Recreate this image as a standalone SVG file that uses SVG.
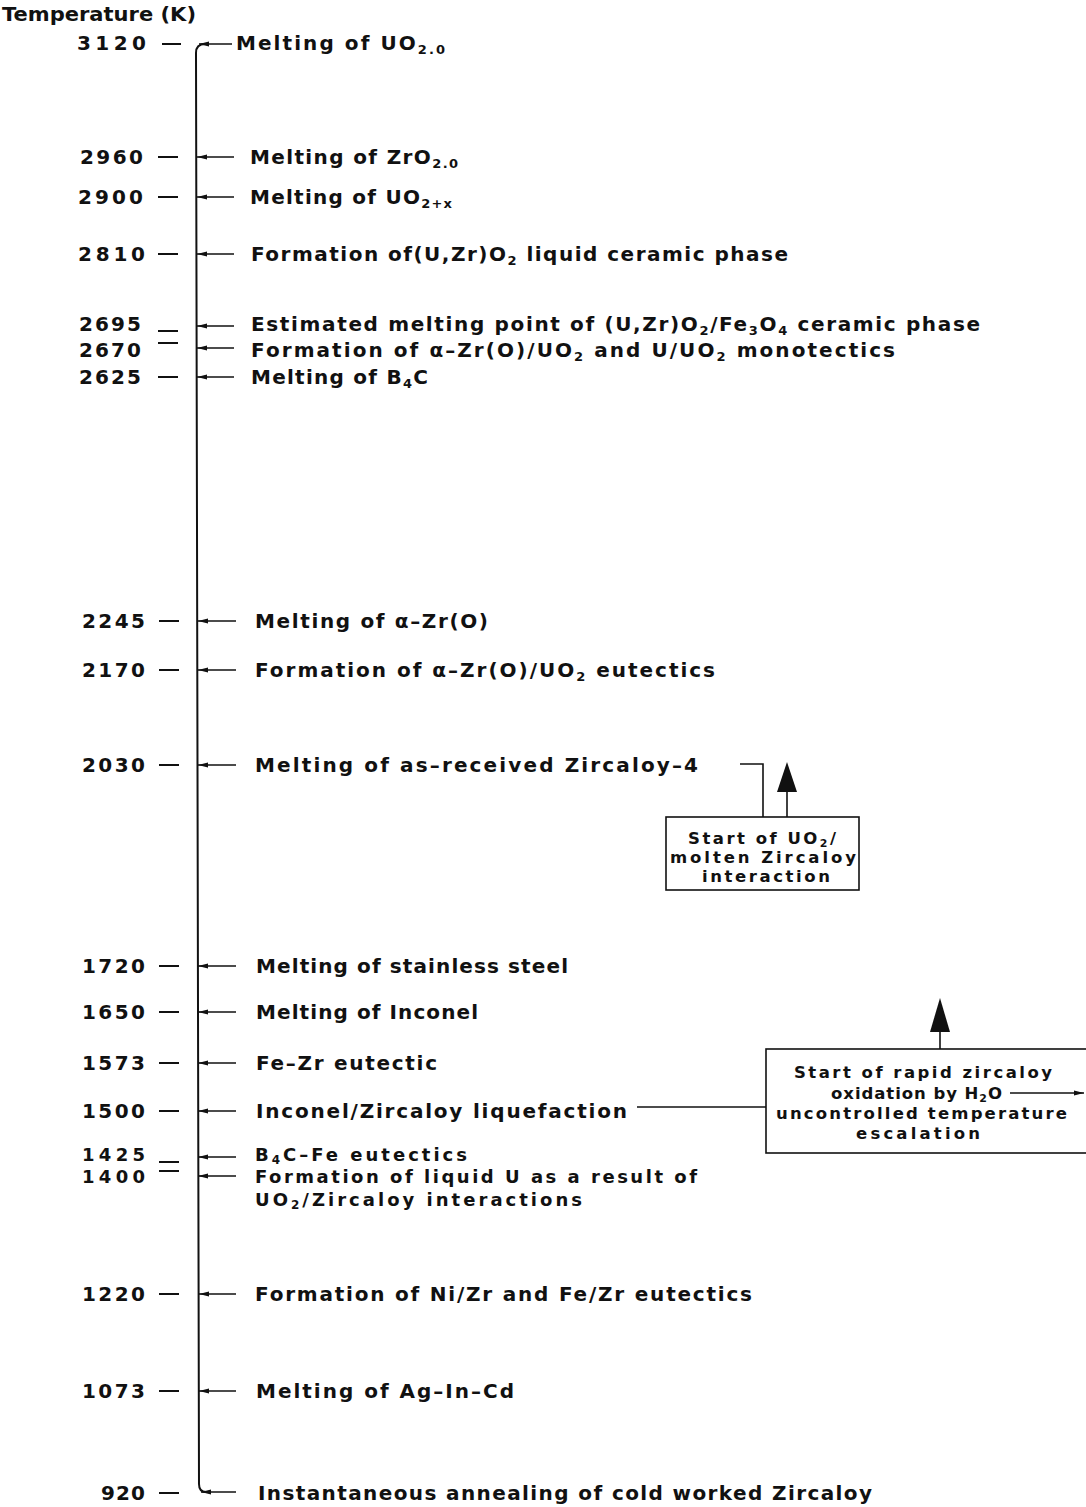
<svg xmlns="http://www.w3.org/2000/svg" width="1086" height="1507" viewBox="0 0 1086 1507">
<style>
.t{font-family:"DejaVu Sans","Liberation Sans",Arial,sans-serif;font-weight:bold;font-size:20px;fill:#111}
.s{font-size:13px}
.bt{font-size:16.5px}
.bt .s{font-size:11px}
.sm{font-size:18px}
.sm .s{font-size:12px}
.ax{stroke:#111;stroke-width:2;fill:none}
.tk{stroke:#111;stroke-width:2}
.ar{stroke:#111;stroke-width:1.5;fill:none;marker-end:url(#ah)}
.bx{fill:#fff;stroke:#111;stroke-width:1.6}
.ln{stroke:#111;stroke-width:1.6;fill:none}
.big{fill:#111}
</style>
<defs>
<marker id="ah" viewBox="0 0 10 6" refX="10" refY="3" markerWidth="10" markerHeight="6" markerUnits="userSpaceOnUse" orient="auto"><path d="M0,0.5 L10,3 L0,5.5 z" fill="#111"/></marker>
</defs>
<rect width="1086" height="1507" fill="#fff"/>
<text id="title" class="t" x="2" y="21" textLength="194" lengthAdjust="spacingAndGlyphs">Temperature (K)</text>

<g id="axis">
<path class="ax" d="M205 44 Q196 44 196 53 L199 1484 Q199 1492 206 1492"/>
</g>

<g id="connectors">
<line class="ar" x1="232" y1="44" x2="199" y2="44"/>
<line class="ar" x1="234" y1="157" x2="197" y2="157"/>
<line class="ar" x1="234" y1="197" x2="197" y2="197"/>
<line class="ar" x1="234" y1="254" x2="197" y2="254"/>
<line class="ar" x1="234" y1="326" x2="197" y2="326"/>
<line class="ar" x1="234" y1="348" x2="197" y2="348"/>
<line class="ar" x1="234" y1="377" x2="197" y2="377"/>
<line class="ar" x1="236" y1="621" x2="198" y2="621"/>
<line class="ar" x1="236" y1="670" x2="198" y2="670"/>
<line class="ar" x1="236" y1="765" x2="198" y2="765"/>
<line class="ar" x1="236" y1="966" x2="198" y2="966"/>
<line class="ar" x1="236" y1="1012" x2="198" y2="1012"/>
<line class="ar" x1="236" y1="1063" x2="198" y2="1063"/>
<line class="ar" x1="236" y1="1111" x2="198" y2="1111"/>
<line class="ar" x1="236" y1="1157" x2="198" y2="1157"/>
<line class="ar" x1="236" y1="1176" x2="198" y2="1176"/>
<line class="ar" x1="236" y1="1294" x2="199" y2="1294"/>
<line class="ar" x1="236" y1="1391" x2="199" y2="1391"/>
<line class="ar" x1="236" y1="1492" x2="201" y2="1492"/>
<path class="ln" d="M740 764 H763 V817"/>
<line class="ln" x1="787" y1="817" x2="787" y2="790"/>
<polygon class="big" points="777,792 797,792 787,762"/>
<line class="ln" x1="637" y1="1107" x2="766" y2="1107"/>
<line class="ln" x1="940" y1="1049" x2="940" y2="1030"/>
<polygon class="big" points="930,1032 950,1032 940,998"/>
</g>

<g id="ticks">
<line class="tk" x1="162" y1="44" x2="181" y2="44"/>
<line class="tk" x1="158" y1="157" x2="178" y2="157"/>
<line class="tk" x1="158" y1="197" x2="178" y2="197"/>
<line class="tk" x1="158" y1="254" x2="178" y2="254"/>
<line class="tk" x1="158" y1="331" x2="178" y2="331"/>
<line class="tk" x1="158" y1="343" x2="178" y2="343"/>
<line class="tk" x1="158" y1="377" x2="178" y2="377"/>
<line class="tk" x1="159" y1="621" x2="179" y2="621"/>
<line class="tk" x1="159" y1="670" x2="179" y2="670"/>
<line class="tk" x1="159" y1="765" x2="179" y2="765"/>
<line class="tk" x1="159" y1="966" x2="179" y2="966"/>
<line class="tk" x1="159" y1="1012" x2="179" y2="1012"/>
<line class="tk" x1="159" y1="1063" x2="179" y2="1063"/>
<line class="tk" x1="159" y1="1111" x2="179" y2="1111"/>
<line class="tk" x1="159" y1="1162" x2="179" y2="1162"/>
<line class="tk" x1="159" y1="1171" x2="179" y2="1171"/>
<line class="tk" x1="159" y1="1294" x2="179" y2="1294"/>
<line class="tk" x1="159" y1="1391" x2="179" y2="1391"/>
<line class="tk" x1="159" y1="1493" x2="179" y2="1493"/>
</g>

<g id="n3120"><text class="t" x="77" y="50" textLength="69">3120</text>
<text class="t" x="236" y="50" textLength="209">Melting of UO<tspan class="s" dy="4">2.0</tspan></text></g>
<g id="n2960"><text class="t" x="80" y="164" textLength="63">2960</text>
<text class="t" x="250" y="164" textLength="208">Melting of ZrO<tspan class="s" dy="4">2.0</tspan></text></g>
<g id="n2900"><text class="t" x="78" y="204" textLength="65">2900</text>
<text class="t" x="250" y="204" textLength="202">Melting of UO<tspan class="s" dy="4">2+x</tspan></text></g>
<g id="n2810"><text class="t" x="78" y="261" textLength="67">2810</text>
<text class="t" x="251" y="261" textLength="537">Formation of(U,Zr)O<tspan class="s" dy="4">2</tspan><tspan dy="-4"> liquid ceramic phase</tspan></text></g>
<g id="n2695"><text class="t" x="79" y="331" textLength="62">2695</text>
<text class="t" x="251" y="331" textLength="729">Estimated melting point of (U,Zr)O<tspan class="s" dy="4">2</tspan><tspan dy="-4">/Fe</tspan><tspan class="s" dy="4">3</tspan><tspan dy="-4">O</tspan><tspan class="s" dy="4">4</tspan><tspan dy="-4"> ceramic phase</tspan></text></g>
<g id="n2670"><text class="t" x="79" y="357" textLength="62">2670</text>
<text class="t" x="251" y="357" textLength="644">Formation of α–Zr(O)/UO<tspan class="s" dy="4">2</tspan><tspan dy="-4"> and U/UO</tspan><tspan class="s" dy="4">2</tspan><tspan dy="-4"> monotectics</tspan></text></g>
<g id="n2625"><text class="t" x="79" y="384" textLength="62">2625</text>
<text class="t" x="251" y="384" textLength="177">Melting of B<tspan class="s" dy="4">4</tspan><tspan dy="-4">C</tspan></text></g>
<g id="n2245"><text class="t" x="82" y="628" textLength="63">2245</text>
<text class="t" x="255" y="628" textLength="233">Melting of α–Zr(O)</text></g>
<g id="n2170"><text class="t" x="82" y="677" textLength="63">2170</text>
<text class="t" x="255" y="677" textLength="460">Formation of α–Zr(O)/UO<tspan class="s" dy="4">2</tspan><tspan dy="-4"> eutectics</tspan></text></g>
<g id="n2030"><text class="t" x="82" y="772" textLength="63">2030</text>
<text class="t" x="255" y="772" textLength="443">Melting of as–received Zircaloy–4</text></g>
<g id="n1720"><text class="t" x="82" y="973" textLength="63">1720</text>
<text class="t" x="256" y="973" textLength="312">Melting of stainless steel</text></g>
<g id="n1650"><text class="t" x="82" y="1019" textLength="63">1650</text>
<text class="t" x="256" y="1019" textLength="222">Melting of Inconel</text></g>
<g id="n1573"><text class="t" x="82" y="1070" textLength="63">1573</text>
<text class="t" x="256" y="1070" textLength="181">Fe–Zr eutectic</text></g>
<g id="n1500"><text class="t" x="82" y="1118" textLength="63">1500</text>
<text class="t" x="256" y="1118" textLength="371">Inconel/Zircaloy liquefaction</text></g>
<g id="n1425"><text class="t sm" x="82" y="1161" textLength="63">1425</text>
<text class="t sm" x="255" y="1161" textLength="212">B<tspan class="s" dy="3">4</tspan><tspan dy="-3">C–Fe eutectics</tspan></text></g>
<g id="n1400"><text class="t sm" x="82" y="1183" textLength="63">1400</text>
<text class="t sm" x="255" y="1183" textLength="442">Formation of liquid U as a result of</text>
<text class="t sm" x="255" y="1206" textLength="327">UO<tspan class="s" dy="3">2</tspan><tspan dy="-3">/Zircaloy interactions</tspan></text></g>
<g id="n1220"><text class="t" x="82" y="1301" textLength="63">1220</text>
<text class="t" x="255" y="1301" textLength="497">Formation of Ni/Zr and Fe/Zr eutectics</text></g>
<g id="n1073"><text class="t" x="82" y="1398" textLength="63">1073</text>
<text class="t" x="256" y="1398" textLength="258">Melting of Ag–In–Cd</text></g>
<g id="n920"><text class="t" x="101" y="1500" textLength="44">920</text>
<text class="t" x="258" y="1500" textLength="614">Instantaneous annealing of cold worked Zircaloy</text></g>

<g id="box1">
<rect class="bx" x="666" y="817" width="193" height="73"/>
<text class="t bt" x="688" y="844" textLength="148">Start of UO<tspan class="s" dy="3">2</tspan><tspan dy="-3">/</tspan></text>
<text class="t bt" x="670" y="863" textLength="186">molten Zircaloy</text>
<text class="t bt" x="702" y="882" textLength="128">interaction</text>
</g>

<g id="box2">
<rect class="bx" x="766" y="1049" width="330" height="104"/>
<text class="t bt" x="794" y="1078" textLength="258">Start of rapid zircaloy</text>
<text class="t bt" x="831" y="1099" textLength="171">oxidation by H<tspan class="s" dy="3">2</tspan><tspan dy="-3">O</tspan></text>
<text class="t bt" x="776" y="1119" textLength="291">uncontrolled temperature</text>
<text class="t bt" x="856" y="1139" textLength="124">escalation</text>
<line class="ar" x1="1010" y1="1093" x2="1084" y2="1093"/>
</g>
</svg>
